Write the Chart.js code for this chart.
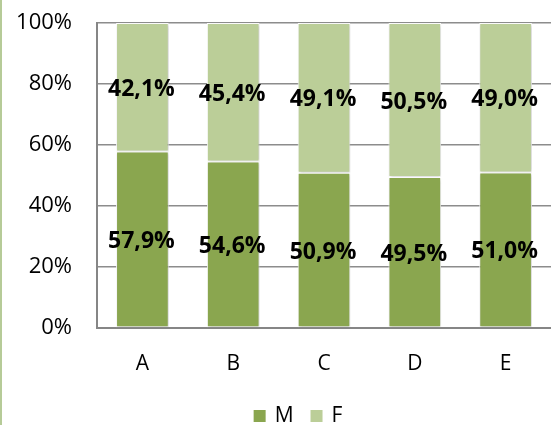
<!DOCTYPE html>
<html>
<head>
<meta charset="utf-8">
<script src="https://cdn.jsdelivr.net/npm/chart.js@4.4.1/dist/chart.umd.min.js"></script>
<style>
  html, body { margin: 0; padding: 0; background: #fff; overflow: hidden; }
  #wrap { position: relative; width: 551px; height: 425px; }
  #wrap:before { content: ''; position: absolute; left: 0; top: 0; bottom: 0; width: 2px; background: #b6cb98; z-index: 2; }
</style>
</head>
<body>
<div id="wrap"><canvas id="chart" width="551" height="425"></canvas></div>
<script>
var categories = ['A', 'B', 'C', 'D', 'E'];
var maleShare = [57.9, 54.6, 50.9, 49.5, 51.0];
var femaleShare = [42.1, 45.4, 49.1, 50.5, 49.0];
var yTicks = [0, 20, 40, 60, 80, 100];

var FONT = '"Open Sans", "Liberation Sans", sans-serif';

// soft drop shadow under the bars
var barShadow = {
  id: 'barShadow',
  beforeDatasetsDraw: function(chart) {
    var ctx = chart.ctx;
    ctx.save();
    ctx.shadowColor = 'rgba(0,0,0,0.22)';
    ctx.shadowBlur = 3;
    ctx.shadowOffsetX = 1;
    ctx.shadowOffsetY = 1;
  },
  afterDatasetsDraw: function(chart) {
    chart.ctx.restore();
  }
};

// writes each segment's share in the middle of its bar piece
var segmentLabels = {
  id: 'segmentLabels',
  afterDatasetsDraw: function(chart) {
    var ctx = chart.ctx;
    ctx.save();
    ctx.font = 'bold 23px ' + FONT;
    ctx.fillStyle = '#000';
    ctx.textAlign = 'center';
    ctx.textBaseline = 'middle';
    chart.data.datasets.forEach(function(ds, i) {
      chart.getDatasetMeta(i).data.forEach(function(bar, j) {
        var mid = (bar.y + bar.base) / 2 + 2;
        ctx.fillText(ds.data[j].toFixed(1).replace('.', ',') + '%', bar.x - 1, mid);
      });
    });
    ctx.restore();
  }
};

// legend row under the axis: square swatch, then series name
var bottomLegend = {
  id: 'bottomLegend',
  afterDraw: function(chart) {
    var ctx = chart.ctx;
    var box = 12, gap = 9, between = 17, cy = 416, centre = 298;
    ctx.save();
    ctx.font = '21px ' + FONT;
    ctx.textBaseline = 'middle';
    var items = chart.data.datasets.map(function(ds) {
      return { text: ds.label, color: ds.backgroundColor, w: ctx.measureText(ds.label).width };
    });
    var total = items.reduce(function(s, it) { return s + box + gap + it.w; }, 0) + between * (items.length - 1);
    var x = centre - total / 2;
    items.forEach(function(it) {
      ctx.fillStyle = it.color;
      ctx.fillRect(x, cy - box / 2, box, box);
      ctx.fillStyle = '#000';
      ctx.fillText(it.text, x + box + gap, cy);
      x += box + gap + it.w + between;
    });
    ctx.restore();
  }
};

new Chart(document.getElementById('chart').getContext('2d'), {
  type: 'bar',
  data: {
    labels: categories,
    datasets: [
      { label: 'M', data: maleShare, backgroundColor: '#8aa64f', borderColor: '#ffffff', borderWidth: 1, borderSkipped: false },
      { label: 'F', data: femaleShare, backgroundColor: '#bbce98', borderColor: '#ffffff', borderWidth: 1, borderSkipped: false }
    ]
  },
  options: {
    responsive: false,
    animation: false,
    layout: { padding: 0 },
    datasets: { bar: { categoryPercentage: 1, barPercentage: 0.58 } },
    plugins: {
      tooltip: { enabled: false },
      legend: { display: false }
    },
    scales: {
      x: {
        stacked: true,
        grid: { display: false },
        border: { color: '#868686', width: 2 },
        ticks: { color: '#000', padding: 15, font: { family: FONT, size: 21 } },
        afterFit: function(s) { s.height = 97; }
      },
      y: {
        stacked: true,
        min: 0,
        max: 100,
        afterBuildTicks: function(s) { s.ticks = yTicks.map(function(v) { return { value: v }; }); },
        grid: { color: '#8c8c8c', lineWidth: 1.5, drawTicks: false },
        border: { color: '#868686', width: 2 },
        ticks: {
          color: '#000',
          padding: 25,
          font: { family: FONT, size: 22 },
          callback: function(v) { return v + '%'; }
        },
        afterFit: function(s) { s.width = 97; s.paddingTop = 23; s.paddingBottom = 0; }
      }
    }
  },
  plugins: [barShadow, segmentLabels, bottomLegend]
});
</script>
</body>
</html>
